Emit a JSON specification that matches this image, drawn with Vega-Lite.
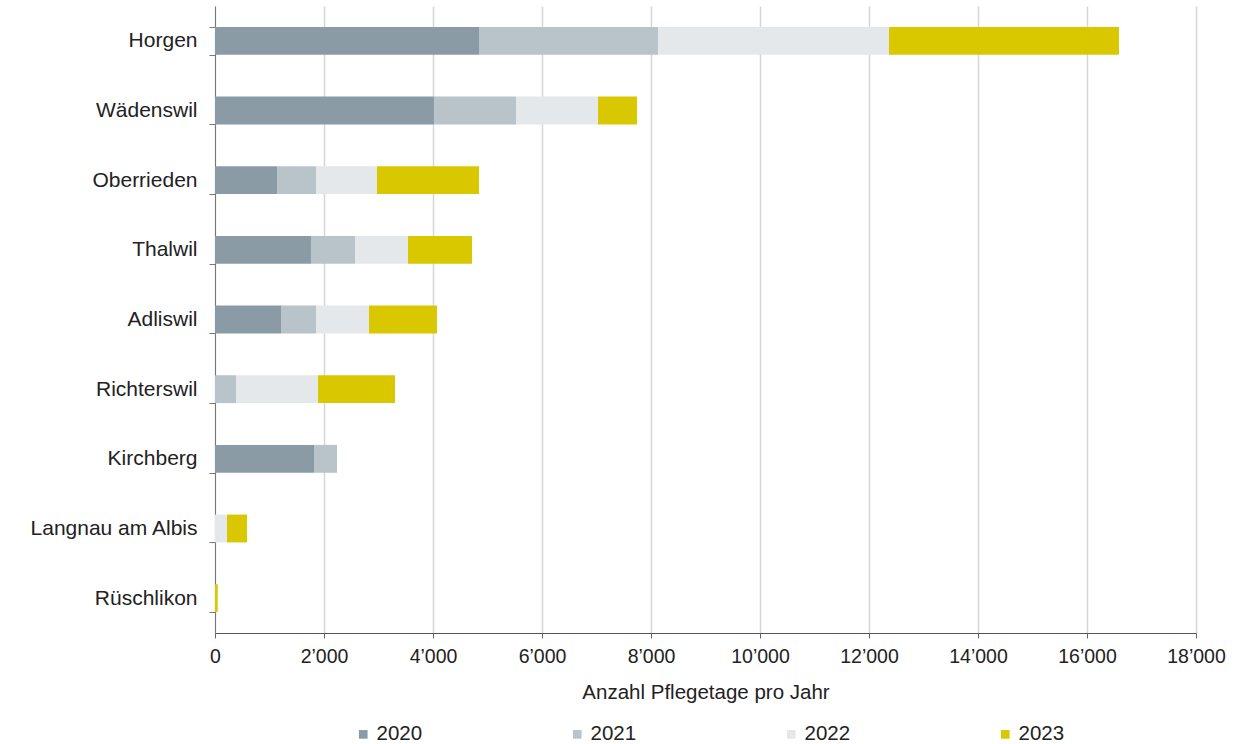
{
  "$schema": "https://vega.github.io/schema/vega-lite/v6.json",
  "width": 981,
  "height": 627,
  "autosize": {"type": "none"},
  "padding": {"left": 215, "top": 6, "right": 62, "bottom": 111},
  "background": "white",
  "data": {"values": [
    {"ort": "Horgen", "jahr": "2020", "tage": 4844},
    {"ort": "Horgen", "jahr": "2021", "tage": 3284},
    {"ort": "Horgen", "jahr": "2022", "tage": 4239},
    {"ort": "Horgen", "jahr": "2023", "tage": 4220},
    {"ort": "Wädenswil", "jahr": "2020", "tage": 4018},
    {"ort": "Wädenswil", "jahr": "2021", "tage": 1505},
    {"ort": "Wädenswil", "jahr": "2022", "tage": 1505},
    {"ort": "Wädenswil", "jahr": "2023", "tage": 715},
    {"ort": "Oberrieden", "jahr": "2020", "tage": 1138},
    {"ort": "Oberrieden", "jahr": "2021", "tage": 715},
    {"ort": "Oberrieden", "jahr": "2022", "tage": 1119},
    {"ort": "Oberrieden", "jahr": "2023", "tage": 1872},
    {"ort": "Thalwil", "jahr": "2020", "tage": 1761},
    {"ort": "Thalwil", "jahr": "2021", "tage": 808},
    {"ort": "Thalwil", "jahr": "2022", "tage": 972},
    {"ort": "Thalwil", "jahr": "2023", "tage": 1175},
    {"ort": "Adliswil", "jahr": "2020", "tage": 1211},
    {"ort": "Adliswil", "jahr": "2021", "tage": 642},
    {"ort": "Adliswil", "jahr": "2022", "tage": 973},
    {"ort": "Adliswil", "jahr": "2023", "tage": 1247},
    {"ort": "Richterswil", "jahr": "2020", "tage": 0},
    {"ort": "Richterswil", "jahr": "2021", "tage": 385},
    {"ort": "Richterswil", "jahr": "2022", "tage": 1505},
    {"ort": "Richterswil", "jahr": "2023", "tage": 1413},
    {"ort": "Kirchberg", "jahr": "2020", "tage": 1817},
    {"ort": "Kirchberg", "jahr": "2021", "tage": 422},
    {"ort": "Kirchberg", "jahr": "2022", "tage": 0},
    {"ort": "Kirchberg", "jahr": "2023", "tage": 0},
    {"ort": "Langnau am Albis", "jahr": "2020", "tage": 0},
    {"ort": "Langnau am Albis", "jahr": "2021", "tage": 0},
    {"ort": "Langnau am Albis", "jahr": "2022", "tage": 220},
    {"ort": "Langnau am Albis", "jahr": "2023", "tage": 367},
    {"ort": "Rüschlikon", "jahr": "2020", "tage": 0},
    {"ort": "Rüschlikon", "jahr": "2021", "tage": 0},
    {"ort": "Rüschlikon", "jahr": "2022", "tage": 0},
    {"ort": "Rüschlikon", "jahr": "2023", "tage": 50}
  ]},
  "mark": {"type": "bar"},
  "encoding": {
    "y": {
      "field": "ort", "type": "nominal",
      "sort": ["Horgen", "Wädenswil", "Oberrieden", "Thalwil", "Adliswil", "Richterswil", "Kirchberg", "Langnau am Albis", "Rüschlikon"],
      "scale": {"paddingInner": 0.6, "paddingOuter": 0.3},
      "axis": {
        "title": null, "labelFontSize": 21, "labelFont": "Liberation Sans", "labelColor": "#222",
        "labelPadding": 12, "tickBand": "extent", "ticks": true, "tickSize": 6, "tickColor": "#777",
        "domainColor": "#777", "grid": false, "labelLimit": 300
      }
    },
    "x": {
      "field": "tage", "type": "quantitative", "stack": "zero",
      "scale": {"domain": [0, 18000], "nice": false},
      "axis": {
        "title": "Anzahl Pflegetage pro Jahr", "titleFontSize": 20.5, "titleFont": "Liberation Sans",
        "titleFontWeight": "normal", "titleColor": "#222", "titlePadding": 17,
        "values": [0, 2000, 4000, 6000, 8000, 10000, 12000, 14000, 16000, 18000],
        "labelExpr": "replace(format(datum.value, ','), ',', '’')",
        "labelFlush": false, "labelOverlap": false,
        "labelFontSize": 19.5, "labelFont": "Liberation Sans", "labelColor": "#222", "labelPadding": 9,
        "tickSize": 5, "tickColor": "#666", "domainColor": "#555",
        "grid": true, "gridColor": "#d6d6d6", "gridWidth": 1.5
      }
    },
    "color": {
      "field": "jahr", "type": "nominal",
      "scale": {"domain": ["2020", "2021", "2022", "2023"], "range": ["#8a9ba5", "#b8c4ca", "#e4e8eb", "#d9c800"]},
      "legend": {
        "title": null, "orient": "none", "direction": "horizontal", "columns": 4,
        "legendX": 138, "legendY": 718, "columnPadding": 144,
        "symbolType": "square", "symbolSize": 75, "symbolStrokeWidth": 0,
        "labelFontSize": 20.5, "labelFont": "Liberation Sans", "labelColor": "#222", "labelOffset": 3
      }
    },
    "order": {"field": "jahr", "sort": "ascending"}
  },
  "config": {"view": {"stroke": null}}
}
